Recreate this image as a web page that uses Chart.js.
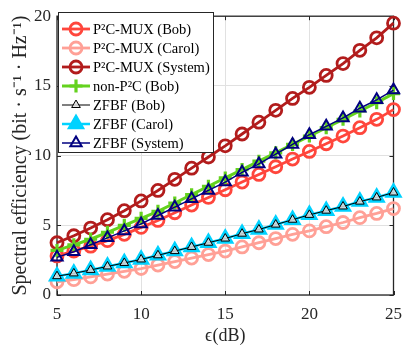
<!DOCTYPE html>
<html>
<head>
<meta charset="utf-8">
<script src="https://cdn.jsdelivr.net/npm/chart.js@4.4.1/dist/chart.umd.min.js"></script>
<style>
html, body { margin: 0; padding: 0; background: #fff; }
</style>
</head>
<body>
<canvas id="seChart" width="411" height="354"></canvas>
<script>
// data
const snr = [5,6,7,8,9,10,11,12,13,14,15,16,17,18,19,20,21,22,23,24,25];
const p2cBob    = [2.8,3.15,3.5,3.9,4.35,4.85,5.35,5.9,6.45,7.0,7.55,8.1,8.65,9.2,9.75,10.3,10.85,11.4,12.0,12.6,13.3];
const p2cCarol  = [0.95,1.1,1.3,1.5,1.7,1.9,2.15,2.4,2.65,2.9,3.15,3.45,3.75,4.05,4.35,4.6,4.9,5.2,5.55,5.85,6.2];
const p2cSystem = [3.75,4.25,4.8,5.4,6.05,6.75,7.5,8.3,9.1,9.9,10.7,11.55,12.4,13.25,14.1,14.9,15.75,16.6,17.55,18.45,19.5];
const nonP2cBob = [3.2,3.6,4.0,4.5,5.0,5.5,6.0,6.6,7.2,7.8,8.4,9.0,9.6,10.2,10.8,11.4,12.0,12.6,13.2,13.8,14.45];
const zfbfBob    = [1.35,1.55,1.8,2.05,2.3,2.55,2.85,3.15,3.45,3.75,4.05,4.4,4.7,5.05,5.4,5.75,6.05,6.35,6.7,7.0,7.35];
const zfbfCarol  = [1.35,1.55,1.8,2.05,2.3,2.55,2.85,3.15,3.45,3.75,4.05,4.4,4.7,5.05,5.4,5.75,6.05,6.35,6.7,7.0,7.35];
const zfbfSystem = [2.7,3.1,3.6,4.1,4.6,5.1,5.7,6.3,6.9,7.5,8.1,8.8,9.4,10.1,10.8,11.5,12.1,12.7,13.4,14.0,14.7];

const xTicks = [5,10,15,20,25];
const yTicks = [0,5,10,15,20];

const serif = '"Liberation Serif", "Times New Roman", serif';
const axisColor = '#262626';

function pts(ys) {
	return ys.map((v, i) => ({x: snr[i], y: v}));
}

const datasets = [
	{label: 'P²C-MUX (Bob)', data: pts(p2cBob), borderColor: 'rgb(255,70,60)', borderWidth: 2.8,
		pointStyle: 'circle', pointRadius: 6, pointBorderWidth: 2.8, pointBackgroundColor: 'rgba(0,0,0,0)', order: 6},
	{label: 'P²C-MUX (Carol)', data: pts(p2cCarol), borderColor: 'rgb(255,160,150)', borderWidth: 2.8,
		pointStyle: 'circle', pointRadius: 6, pointBorderWidth: 2.8, pointBackgroundColor: 'rgba(0,0,0,0)', order: 5},
	{label: 'P²C-MUX (System)', data: pts(p2cSystem), borderColor: 'rgb(178,28,28)', borderWidth: 2.8,
		pointStyle: 'circle', pointRadius: 6, pointBorderWidth: 2.8, pointBackgroundColor: 'rgba(0,0,0,0)', order: 4},
	{label: 'non-P²C (Bob)', data: pts(nonP2cBob), borderColor: 'rgb(100,210,30)', borderWidth: 3,
		pointStyle: 'cross', pointRadius: 6.5, pointBorderWidth: 3.2, pointBackgroundColor: 'rgba(0,0,0,0)', order: 3},
	{label: 'ZFBF (Bob)', data: pts(zfbfBob), borderColor: '#000', borderWidth: 1,
		pointStyle: 'triangle', pointRadius: 5, pointBorderWidth: 1, pointBackgroundColor: 'rgba(225,225,225,0.85)', order: 0},
	{label: 'ZFBF (Carol)', data: pts(zfbfCarol), borderColor: 'rgb(0,210,255)', borderWidth: 2.5,
		pointStyle: 'triangle', pointRadius: 8.5, pointBorderWidth: 2, pointBackgroundColor: 'rgb(0,210,255)', order: 2},
	{label: 'ZFBF (System)', data: pts(zfbfSystem), borderColor: 'rgb(0,0,128)', borderWidth: 1.5,
		pointStyle: 'triangle', pointRadius: 6.5, pointBorderWidth: 2, pointBackgroundColor: 'rgba(0,0,0,0)', order: 1}
];
datasets.forEach(d => { d.pointBorderColor = d.borderColor; d.tension = 0; d.fill = false; d.clip = false; });

// box, inward ticks and the MATLAB style legend
const frame = {
	id: 'frame',
	beforeDatasetsDraw(chart) {
		const {ctx, chartArea: a, scales} = chart;
		ctx.save();
		ctx.strokeStyle = axisColor;
		ctx.lineWidth = 1.3;
		ctx.strokeRect(a.left, a.top, a.right - a.left, a.bottom - a.top);
		ctx.lineWidth = 1;
		ctx.beginPath();
		xTicks.forEach(v => {
			const px = Math.round(scales.x.getPixelForValue(v)) + 0.5;
			ctx.moveTo(px, a.bottom); ctx.lineTo(px, a.bottom - 4);
			ctx.moveTo(px, a.top); ctx.lineTo(px, a.top + 4);
		});
		yTicks.forEach(v => {
			const py = Math.round(scales.y.getPixelForValue(v)) + 0.5;
			ctx.moveTo(a.left, py); ctx.lineTo(a.left + 4, py);
			ctx.moveTo(a.right, py); ctx.lineTo(a.right - 4, py);
		});
		ctx.stroke();
		ctx.restore();
	},
	afterDraw(chart) {
		const ctx = chart.ctx;
		const box = {x: 58, y: 12, w: 155, h: 140};
		ctx.save();
		ctx.fillStyle = '#fff';
		ctx.fillRect(box.x, box.y, box.w, box.h);
		ctx.strokeStyle = axisColor;
		ctx.lineWidth = 1;
		ctx.strokeRect(box.x + 0.5, box.y + 0.5, box.w, box.h);
		chart.data.datasets.forEach((d, i) => {
			const cy = 29 + i * 19;
			ctx.strokeStyle = d.borderColor;
			ctx.lineWidth = d.borderWidth;
			ctx.beginPath();
			ctx.moveTo(62, cy); ctx.lineTo(90, cy);
			ctx.stroke();
			ctx.fillStyle = d.pointBackgroundColor;
			ctx.lineWidth = d.pointBorderWidth;
			Chart.helpers.drawPoint(ctx, {pointStyle: d.pointStyle, radius: d.pointRadius, rotation: 0, borderWidth: d.pointBorderWidth}, 76, cy);
			ctx.fillStyle = '#000';
			ctx.font = '14.5px ' + serif;
			ctx.textBaseline = 'middle';
			ctx.textAlign = 'left';
			ctx.fillText(d.label, 93, cy + 1);
		});
		ctx.restore();
	}
};

new Chart(document.getElementById('seChart'), {
	type: 'line',
	data: {datasets: datasets},
	options: {
		responsive: false,
		animation: false,
		layout: {padding: {left: 0, right: 9, top: 10, bottom: 0}},
		plugins: {legend: {display: false}, tooltip: {enabled: false}},
		scales: {
			x: {
				type: 'linear', min: 5, max: 25,
				afterBuildTicks: s => { s.ticks = xTicks.map(v => ({value: v})); },
				afterFit: s => { s.height = 59; },
				grid: {color: 'rgb(225,225,225)', drawTicks: false},
				border: {display: false},
				ticks: {color: axisColor, font: {family: serif, size: 17}, padding: 9},
				title: {display: true, text: 'ϵ(dB)', color: axisColor, font: {family: serif, size: 18}, padding: {top: 0, bottom: 7}}
			},
			y: {
				type: 'linear', min: 0, max: 20,
				afterBuildTicks: s => { s.ticks = yTicks.map(v => ({value: v})); },
				afterFit: s => { s.width = 57; },
				grid: {color: 'rgb(225,225,225)', drawTicks: false},
				border: {display: false},
				ticks: {color: axisColor, font: {family: serif, size: 17}, padding: 6},
				title: {display: true, text: 'Spectral efficiency (bit · s⁻¹ · Hz⁻¹)', color: axisColor, font: {family: serif, size: 20}, padding: {top: 9, bottom: 0}}
			}
		}
	},
	plugins: [frame]
});
</script>
</body>
</html>
